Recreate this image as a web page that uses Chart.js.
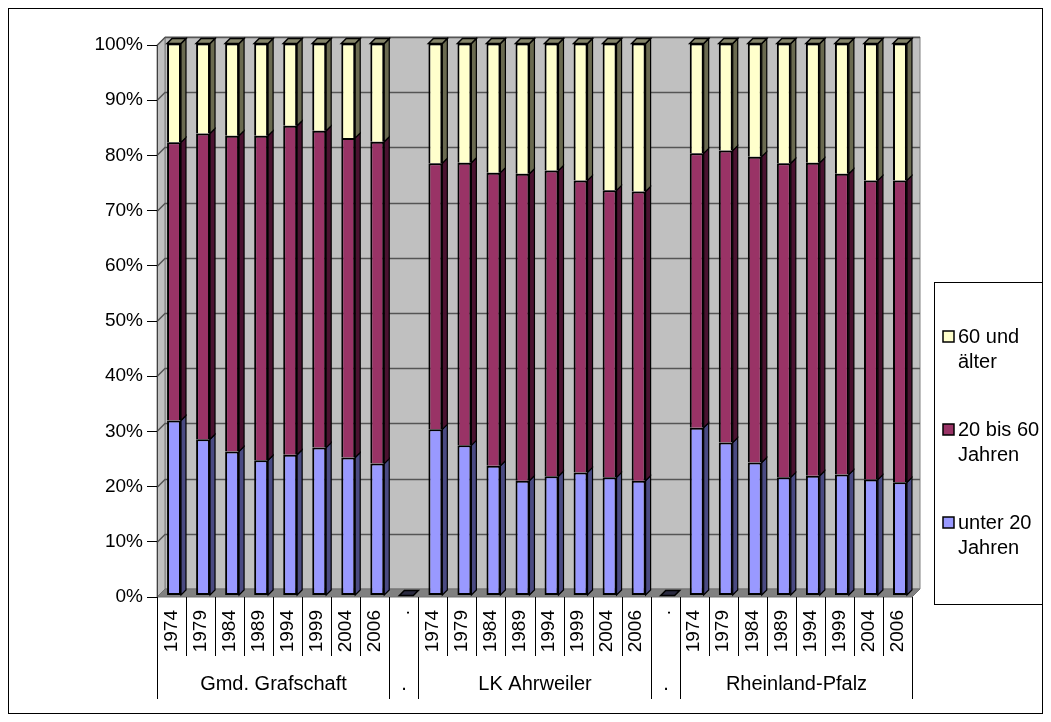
<!DOCTYPE html>
<html>
<head>
<meta charset="utf-8">
<script src="https://cdn.jsdelivr.net/npm/chart.js@4.4.1/dist/chart.umd.min.js"></script>
<style>
  html, body { margin: 0; padding: 0; background: #fff; }
  #wrap { width: 1051px; height: 722px; position: relative; }
</style>
</head>
<body>
<div id="wrap"><canvas id="c" width="1051" height="722"></canvas></div>
<script>
// Census years shown for each region
const years = ['1974', '1979', '1984', '1989', '1994', '1999', '2004', '2006'];
// Regions (the "." entries are empty spacer columns between regions)
const groups = ['Gmd. Grafschaft', '.', 'LK Ahrweiler', '.', 'Rheinland-Pfalz'];
const groupYears = [years, ['.'], years, ['.'], years];

// Age group shares in percent
const grafUnter20 = [31.7, 28.3, 26.1, 24.5, 25.5, 26.8, 25.0, 23.9];
const graf20bis60 = [50.4, 55.4, 57.2, 58.8, 59.6, 57.4, 57.9, 58.3];
const graf60plus  = [17.9, 16.3, 16.7, 16.7, 14.9, 15.8, 17.1, 17.8];

const ahrUnter20 = [30.1, 27.2, 23.5, 20.8, 21.6, 22.3, 21.4, 20.8];
const ahr20bis60 = [48.2, 51.2, 53.1, 55.6, 55.4, 52.9, 52.0, 52.4];
const ahr60plus  = [21.7, 21.6, 23.4, 23.6, 23.0, 24.8, 26.6, 26.8];

const rlpUnter20 = [30.4, 27.7, 24.1, 21.4, 21.7, 21.9, 21.0, 20.5];
const rlp20bis60 = [49.7, 52.9, 55.4, 56.9, 56.7, 54.5, 54.2, 54.7];
const rlp60plus  = [19.9, 19.4, 20.5, 21.7, 21.6, 23.6, 24.8, 24.8];

const spacer = [0];

// Series names (two lines each) and colours
const seriesNames = [['unter 20', 'Jahren'], ['20 bis 60', 'Jahren'], ['60 und', 'älter']];
const seriesColors = ['#9999FF', '#993366', '#FFFFCC'];
const sideColors = ['#4a4a82', '#4a1230', '#6a6a50'];
const topColors = ['#7070c0', '#6e2048', '#85856a'];

const categories = groupYears.flat();
const seriesData = [
  [].concat(grafUnter20, spacer, ahrUnter20, spacer, rlpUnter20),
  [].concat(graf20bis60, spacer, ahr20bis60, spacer, rlp20bis60),
  [].concat(graf60plus, spacer, ahr60plus, spacer, rlp60plus)
];

const FONT = '"Liberation Sans", Arial, sans-serif';
Chart.defaults.font.family = FONT;
Chart.defaults.color = '#000';

const DEPTH = 8;          // depth of the back wall
const BAR_DEPTH = 5;      // depth of each column
const BAR_SHIFT = { x: 2.5, y: -1.5 };

function poly(ctx, pts, fill, stroke, lw) {
  ctx.beginPath();
  ctx.moveTo(pts[0][0], pts[0][1]);
  for (let i = 1; i < pts.length; i++) ctx.lineTo(pts[i][0], pts[i][1]);
  ctx.closePath();
  if (fill) { ctx.fillStyle = fill; ctx.fill(); }
  if (stroke) { ctx.strokeStyle = stroke; ctx.lineWidth = lw || 1; ctx.stroke(); }
}

// Walls, floor and gridlines of the 3D plot box
const walls = {
  id: 'walls',
  beforeDraw(chart) {
    const { ctx, chartArea: a, scales: { y } } = chart;
    const d = DEPTH;
    ctx.save();
    ctx.fillStyle = '#fff';
    ctx.fillRect(0, 0, chart.width, chart.height);
    ctx.strokeStyle = '#000';
    ctx.lineWidth = 1;
    ctx.strokeRect(8.5, 8.5, 1034, 705);

    // back wall
    poly(ctx, [[a.left + d, a.top - d], [a.right + d, a.top - d], [a.right + d, a.bottom - d], [a.left + d, a.bottom - d]], '#c0c0c0', '#808080', 1);
    // left wall
    poly(ctx, [[a.left, a.top], [a.left + d, a.top - d], [a.left + d, a.bottom - d], [a.left, a.bottom]], '#c0c0c0', '#808080', 1);
    // floor
    poly(ctx, [[a.left, a.bottom], [a.left + d, a.bottom - d], [a.right + d, a.bottom - d], [a.right, a.bottom]], '#808080', '#707070', 1);

    // gridlines
    ctx.strokeStyle = '#555';
    ctx.lineWidth = 1.5;
    y.ticks.forEach(t => {
      if (t.value === 0) return;
      const py = Math.round(y.getPixelForValue(t.value)) + 0.5;
      ctx.beginPath();
      ctx.moveTo(a.left, py);
      ctx.lineTo(a.left + d, py - d);
      ctx.lineTo(a.right + d, py - d);
      ctx.stroke();
    });
    ctx.restore();
  },
  beforeDatasetsDraw(chart) {
    chart.ctx.save();
    chart.ctx.translate(BAR_SHIFT.x, BAR_SHIFT.y);
  },
  afterDatasetsDraw(chart) {
    const ctx = chart.ctx;
    const metas = chart.data.datasets.map((_, i) => chart.getDatasetMeta(i));
    const b = BAR_DEPTH;
    for (let i = 0; i < categories.length; i++) {
      let topIdx = -1;
      metas.forEach((m, k) => {
        const el = m.data[i];
        const top = Math.min(el.y, el.base), bottom = Math.max(el.y, el.base);
        const right = el.x + el.width / 2;
        if (bottom - top > 0.5) {
          topIdx = k;
          poly(ctx, [[right, top], [right + b, top - b], [right + b, bottom - b], [right, bottom]], sideColors[k], '#000', 1.2);
        }
      });
      const ref = metas[Math.max(topIdx, 0)].data[i];
      const t = Math.min(ref.y, ref.base);
      const l = ref.x - ref.width / 2, r = ref.x + ref.width / 2;
      poly(ctx, [[l, t], [l + b, t - b], [r + b, t - b], [r, t]], topIdx >= 0 ? topColors[topIdx] : '#2a2a40', '#000', 1.5);
    }
    ctx.restore();
  },
  afterDraw(chart) {
    const { ctx, chartArea: a, scales: { x } } = chart;
    const half = (x.getPixelForValue(1) - x.getPixelForValue(0)) / 2;
    ctx.save();
    ctx.strokeStyle = '#000';
    ctx.lineWidth = 1;
    // year row
    ctx.font = '19px ' + FONT;
    ctx.fillStyle = '#000';
    categories.forEach((c, i) => {
      const cx = x.getPixelForValue(i);
      const bx = Math.round(cx + half) + 0.5;
      ctx.beginPath();
      ctx.moveTo(bx, a.bottom);
      ctx.lineTo(bx, 656);
      ctx.stroke();
      ctx.save();
      ctx.translate(cx, 610);
      ctx.rotate(-Math.PI / 2);
      ctx.textAlign = 'right';
      ctx.textBaseline = 'middle';
      ctx.fillText(c, 0, 0);
      ctx.restore();
    });
    // region row
    ctx.font = '20px ' + FONT;
    ctx.textAlign = 'center';
    ctx.textBaseline = 'middle';
    let start = 0;
    const edge = i => Math.round(x.getPixelForValue(i) - half) + 0.5;
    ctx.beginPath();
    ctx.moveTo(edge(0), a.bottom);
    ctx.lineTo(edge(0), 699);
    ctx.stroke();
    groups.forEach((g, gi) => {
      const n = groupYears[gi].length;
      const l = edge(start), r = edge(start + n);
      ctx.beginPath();
      ctx.moveTo(r, a.bottom);
      ctx.lineTo(r, 699);
      ctx.stroke();
      ctx.fillText(g, (l + r) / 2, 684);
      start += n;
    });

    // legend
    const lx = 934.5, ly = 282.5, lw = 108, lh = 322;
    ctx.fillStyle = '#fff';
    ctx.fillRect(lx, ly, lw, lh);
    ctx.strokeRect(lx, ly, lw, lh);
    ctx.font = '20px ' + FONT;
    ctx.textAlign = 'left';
    const order = [2, 1, 0];
    order.forEach((k, j) => {
      const yy = 337 + j * 93;
      ctx.fillStyle = seriesColors[k];
      ctx.fillRect(943, yy - 6, 11, 11);
      ctx.lineWidth = 1.5;
      ctx.strokeStyle = '#000';
      ctx.strokeRect(943, yy - 6, 11, 11);
      ctx.fillStyle = '#000';
      seriesNames[k].forEach((line, li) => ctx.fillText(line, 958, yy + li * 25));
    });
    ctx.restore();
  }
};

new Chart(document.getElementById('c'), {
  type: 'bar',
  data: {
    labels: categories,
    datasets: seriesData.map((vals, k) => ({
      label: seriesNames[k].join(' '),
      data: vals,
      backgroundColor: seriesColors[k],
      borderColor: '#000',
      borderWidth: k === 0 ? 2 : { top: 2, left: 2, right: 2, bottom: 0 },
      borderSkipped: false,
      barPercentage: 0.48,
      categoryPercentage: 1.0,
      clip: false
    }))
  },
  options: {
    responsive: false,
    animation: false,
    devicePixelRatio: 1,
    layout: { padding: { left: 0, top: 45, right: 139, bottom: 125 } },
    plugins: { legend: { display: false }, tooltip: { enabled: false } },
    scales: {
      x: { stacked: true, display: false, offset: true },
      y: {
        stacked: true, min: 0, max: 100,
        ticks: { stepSize: 10, callback: v => v + '%', color: '#000', padding: 4, font: { size: 19 } },
        grid: { drawOnChartArea: false, tickLength: 10, color: '#000', lineWidth: 1 },
        border: { color: '#404040', width: 1 },
        afterFit(s) { s.width = 157; }
      }
    }
  },
  plugins: [walls]
});
</script>
</body>
</html>
